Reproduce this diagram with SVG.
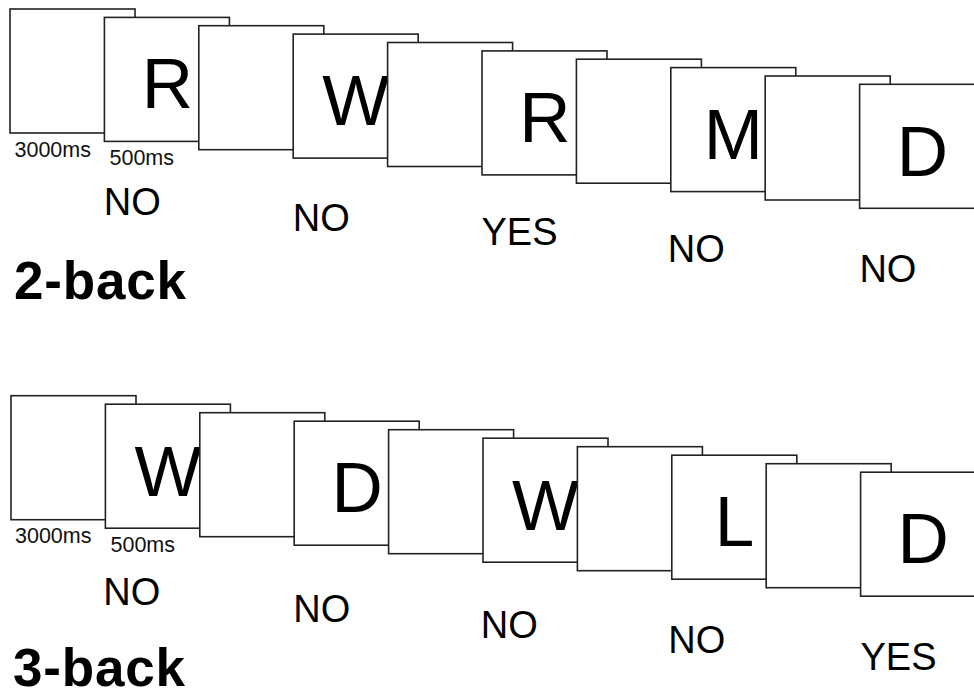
<svg xmlns="http://www.w3.org/2000/svg" width="974" height="691" viewBox="0 0 974 691">
<style>
.box{fill:#fff;stroke:#222;stroke-width:1.6}
.let{font-family:"Liberation Sans",Arial,sans-serif;font-size:71px;fill:#000;text-anchor:middle}
.ms{font-family:"Liberation Sans",Arial,sans-serif;font-size:21.5px;fill:#111}
.ans{font-family:"Liberation Sans",Arial,sans-serif;font-size:38px;fill:#000}
.title{font-family:"Liberation Sans",Arial,sans-serif;font-size:53px;font-weight:bold;fill:#000}
</style>
<rect width="974" height="691" fill="#fff"/>
<g id="top-row">
<g id="t1"><rect class="box" x="10" y="9" width="125" height="124"/></g>
<g id="t2"><rect class="box" x="104.4" y="17.4" width="125" height="124"/><text class="let" x="167.4" y="108.2">R</text></g>
<g id="t3"><rect class="box" x="198.8" y="25.7" width="125" height="124"/></g>
<g id="t4"><rect class="box" x="293.2" y="34.1" width="125" height="124"/><text class="let" x="355.7" y="125.4">W</text></g>
<g id="t5"><rect class="box" x="387.6" y="42.5" width="125" height="124"/></g>
<g id="t6"><rect class="box" x="482" y="50.9" width="125" height="124"/><text class="let" x="544.8" y="142.2">R</text></g>
<g id="t7"><rect class="box" x="576.4" y="59.2" width="125" height="124"/></g>
<g id="t8"><rect class="box" x="670.8" y="67.6" width="125" height="124"/><text class="let" x="733.3" y="159.3">M</text></g>
<g id="t9"><rect class="box" x="765.2" y="76" width="125" height="124"/></g>
<g id="t10"><rect class="box" x="859.6" y="84.3" width="125" height="124"/><text class="let" x="922.3" y="175.8">D</text></g>
</g>
<g id="top-labels">
<text class="ms" x="14.5" y="156.5">3000ms</text>
<text class="ms" x="109.5" y="164.7">500ms</text>
<text class="ans" x="103.8" y="215">NO</text>
<text class="ans" x="292.8" y="231">NO</text>
<text class="ans" x="481.5" y="245">YES</text>
<text class="ans" x="667.8" y="261.7">NO</text>
<text class="ans" x="859.4" y="281.7">NO</text>
<text class="title" x="14" y="299" textLength="172">2-back</text>
</g>
<g id="bottom-row">
<g id="b1"><rect class="box" x="11" y="395.7" width="125" height="124"/></g>
<g id="b2"><rect class="box" x="105.4" y="404.2" width="125" height="124"/><text class="let" x="167.9" y="495.8">W</text></g>
<g id="b3"><rect class="box" x="199.8" y="412.7" width="125" height="124"/></g>
<g id="b4"><rect class="box" x="294.2" y="421.2" width="125" height="124"/><text class="let" x="357.2" y="512.2">D</text></g>
<g id="b5"><rect class="box" x="388.6" y="429.7" width="125" height="124"/></g>
<g id="b6"><rect class="box" x="483" y="438.2" width="125" height="124"/><text class="let" x="545.5" y="529.8">W</text></g>
<g id="b7"><rect class="box" x="577.4" y="446.7" width="125" height="124"/></g>
<g id="b8"><rect class="box" x="671.8" y="455.2" width="125" height="124"/><text class="let" x="734.6" y="546.3">L</text></g>
<g id="b9"><rect class="box" x="766.2" y="463.7" width="125" height="124"/></g>
<g id="b10"><rect class="box" x="860.6" y="472.2" width="125" height="124"/><text class="let" x="923.1" y="563">D</text></g>
</g>
<g id="bottom-labels">
<text class="ms" x="15" y="543">3000ms</text>
<text class="ms" x="110.5" y="552.3">500ms</text>
<text class="ans" x="103.2" y="605.3">NO</text>
<text class="ans" x="293.2" y="621.7">NO</text>
<text class="ans" x="480.8" y="637.7">NO</text>
<text class="ans" x="668.2" y="653.3">NO</text>
<text class="ans" x="860.5" y="670">YES</text>
<text class="title" x="13" y="686" textLength="172">3-back</text>
</g>
<g id="connectors"/>
</svg>
